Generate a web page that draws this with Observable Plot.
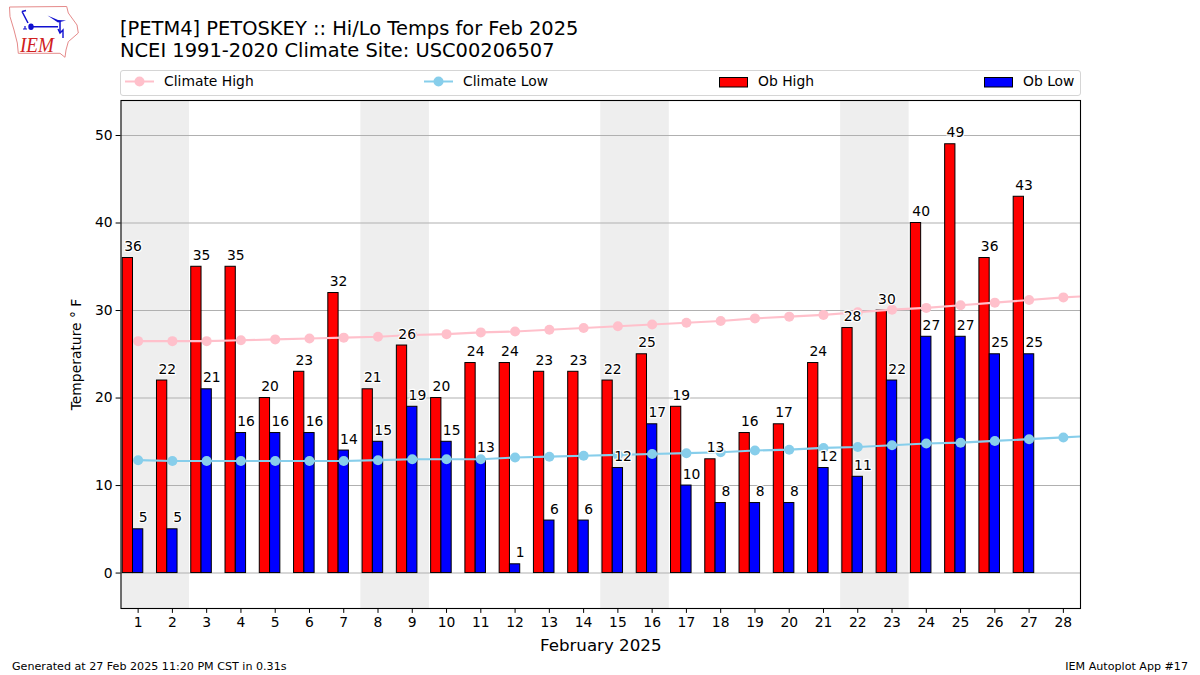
<!DOCTYPE html>
<html>
<head>
<meta charset="utf-8">
<script src="https://cdn.jsdelivr.net/npm/d3@7"></script>
<script src="https://cdn.jsdelivr.net/npm/@observablehq/plot@0.6"></script>
<style>
html,body{margin:0;padding:0;background:#fff;font-family:"DejaVu Sans",sans-serif;color:#000}
#page{position:relative;width:1200px;height:675px;overflow:hidden}
#page>svg,#chart svg{display:block}
#chart{position:absolute;left:0;top:0}
.abs{position:absolute;white-space:nowrap}
#title{left:120px;top:18px;font-size:19.44px;line-height:22.4px}
#legend{left:120px;top:70px;width:959px;height:24px;border:1px solid #d5d5d5;border-radius:3px;background:#fff}
.lt{position:absolute;top:81px;transform:translateY(-50%);font-size:13.89px;white-space:nowrap}
.foot{font-size:11.11px;top:660px}
g[aria-label="x-axis label"] text{font-size:16.67px}
</style>
</head>
<body>
<div id="page">
  <div id="chart"></div>
  <svg class="abs" style="left:0;top:0" width="90" height="65" viewBox="0 0 90 65">
    <path d="M9.5 7 L66.7 6.5 L68.3 13 L77 25 L78.3 33 L68.3 41.7 L66 50 L65 57.3 L60 53.3 L18.3 53.3 L17.3 43 L14 30 L10 16.7 Z" fill="none" stroke="#e58a8a" stroke-width="1"/>
    <path d="M31 26.7 L58 26.7 M60 21 L60 33 M22 11.5 L28 23 M22 11.5 L26 10.5" fill="none" stroke="#1010d0" stroke-width="1.5"/>
    <path d="M47.5 15.5 L58 20 L66 20.5 L58 22.5 Z" fill="#1010d0"/>
    <ellipse cx="31" cy="26.7" rx="2.7" ry="3.2" fill="#1010d0"/>
    <path d="M58 29 L60 33 L63 30 L63 38" fill="none" stroke="#1010d0" stroke-width="1.4"/>
    <path d="M23 29 h4 M25 26 v3" fill="none" stroke="#1010d0" stroke-width="1.2"/>
    <text x="20" y="52" font-family="Liberation Serif" font-style="italic" font-size="20" fill="#d02020" textLength="34" lengthAdjust="spacingAndGlyphs">IEM</text>
  </svg>
  <div id="title" class="abs">[PETM4] PETOSKEY :: Hi/Lo Temps for Feb 2025<br>NCEI 1991-2020 Climate Site: USC00206507</div>
  <div id="legend" class="abs"></div>
  <svg class="abs" style="left:0;top:70px" width="1200" height="25">
    <line x1="125" x2="154" y1="11.5" y2="11.5" stroke="#ffc0cb" stroke-width="2"/><circle cx="139.5" cy="11.5" r="5" fill="#ffc0cb"/>
    <line x1="424" x2="453" y1="11.5" y2="11.5" stroke="#87ceeb" stroke-width="2"/><circle cx="438.5" cy="11.5" r="5" fill="#87ceeb"/>
    <rect x="719.5" y="7.5" width="28" height="9.5" fill="#f00" stroke="#000"/>
    <rect x="984.5" y="7.5" width="28" height="9.5" fill="#00f" stroke="#000"/>
  </svg>
  <div class="lt" style="left:164px">Climate High</div>
  <div class="lt" style="left:463px">Climate Low</div>
  <div class="lt" style="left:758px">Ob High</div>
  <div class="lt" style="left:1023px">Ob Low</div>
  <div class="abs foot" style="left:12px">Generated at 27 Feb 2025 11:20 PM CST in 0.31s</div>
  <div class="abs foot" style="right:12px">IEM Autoplot App #17</div>
</div>
<script>
const days = d3.range(1, 29);
const obHigh = [36,22,35,35,20,23,32,21,26,20,24,24,23,23,22,25,19,13,16,17,24,28,30,40,49,36,43];
const obLow = [5,5,21,16,16,16,14,15,19,15,13,1,6,6,12,17,10,8,8,8,12,11,22,27,27,25,25];
const climateHigh = [26.5,26.5,26.5,26.6,26.7,26.8,26.9,27.0,27.2,27.3,27.5,27.6,27.8,28.0,28.2,28.4,28.6,28.8,29.1,29.3,29.5,29.8,30.1,30.3,30.6,30.9,31.2,31.5];
const climateLow = [12.9,12.8,12.8,12.8,12.8,12.8,12.8,12.9,13.0,13.0,13.0,13.2,13.3,13.4,13.5,13.6,13.7,13.8,14.0,14.1,14.3,14.4,14.6,14.8,14.9,15.1,15.3,15.5];
// the climate lines run on past the last day to the frame's edge
const nextDay = 29, nextClimateHigh = 31.7, nextClimateLow = 15.7;
const weekendStarts = [1, 8, 15, 22];
const yTicks = [0,10,20,30,40,50];

const highRows = obHigh.map((v,i)=>({day:days[i],v}));
const lowRows = obLow.map((v,i)=>({day:days[i],v}));
const climHighRows = climateHigh.map((v,i)=>({day:days[i],v}));
const climLowRows = climateLow.map((v,i)=>({day:days[i],v}));
const climHighLine = [...climHighRows,{day:nextDay,v:nextClimateHigh}];
const climLowLine = [...climLowRows,{day:nextDay,v:nextClimateLow}];
const lbl = {fontSize:13.89, textAnchor:"middle", lineAnchor:"bottom", fill:"#000", stroke:"#fff", strokeWidth:2.5, dy:-7, text:d=>String(d.v), y:"v"};

const chart = Plot.plot({
  width:1200, height:675,
  marginLeft:120.5, marginRight:120, marginTop:100, marginBottom:67,
  style:{fontFamily:"'DejaVu Sans',sans-serif", fontSize:"13.89px", background:"transparent", color:"#000"},
  x:{domain:[0.5,28.5], type:"linear"},
  y:{domain:[-4.05,54]},
  marks:[
    Plot.rect(weekendStarts,{x1:d=>d-0.5,x2:d=>d+1.5,fill:"#eeeeee"}),
    Plot.ruleY(yTicks,{stroke:"#b0b0b0",strokeWidth:1.1}),
    Plot.rectY(highRows,{x1:d=>d.day-0.45,x2:d=>d.day-0.15,y1:0,y2:"v",fill:"#f00",stroke:"#000",strokeWidth:1,inset:0}),
    Plot.rectY(lowRows,{x1:d=>d.day-0.15,x2:d=>d.day+0.15,y1:0,y2:"v",fill:"#00f",stroke:"#000",strokeWidth:1,inset:0}),
    Plot.line(climHighLine,{x:"day",y:"v",stroke:"#ffc0cb",strokeWidth:2.1,clip:true}),
    Plot.dot(climHighRows,{x:"day",y:"v",r:5,fill:"#ffc0cb"}),
    Plot.line(climLowLine,{x:"day",y:"v",stroke:"#87ceeb",strokeWidth:2.1,clip:true}),
    Plot.dot(climLowRows,{x:"day",y:"v",r:5,fill:"#87ceeb"}),
    Plot.text(highRows,{...lbl,x:d=>d.day-0.15}),
    Plot.text(lowRows,{...lbl,x:d=>d.day+0.15}),
    Plot.frame({stroke:"#000",strokeWidth:1.1}),
    Plot.axisX({ticks:days,tickSize:4.9,tickPadding:3.5,tickFormat:d=>String(d),label:"February 2025",labelAnchor:"center",labelArrow:"none",labelOffset:42,fontSize:13.89}),
    Plot.axisY({ticks:yTicks,tickSize:4.9,tickPadding:3.5,tickFormat:d=>String(d),label:"Temperature ° F",labelAnchor:"center",labelArrow:"none",labelOffset:50,fontSize:13.89})
  ]
});
document.getElementById("chart").appendChild(chart);
</script>
</body>
</html>
